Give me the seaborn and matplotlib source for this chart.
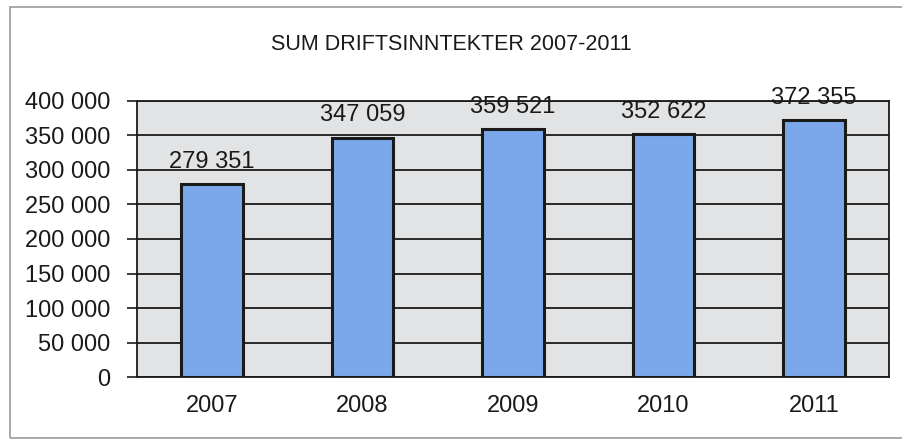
import matplotlib
matplotlib.use("Agg")
import matplotlib.pyplot as plt
import seaborn as sns
import pandas as pd
from matplotlib.ticker import FixedLocator, FuncFormatter
from matplotlib.patches import Rectangle

years = ["2007", "2008", "2009", "2010", "2011"]
values = [279351, 347059, 359521, 352622, 372355]
yticks = [0, 50000, 100000, 150000, 200000, 250000, 300000, 350000, 400000]
title = "SUM DRIFTSINNTEKTER 2007-2011"

sns.set_theme(style="white")
plt.rcParams['font.family'] = ['Liberation Sans', 'DejaVu Sans']

df = pd.DataFrame({"year": years, "value": values})

fig = plt.figure(figsize=(9.02, 4.41), dpi=100)
ax = fig.add_axes([0.1519, 0.1451, 0.8337, 0.6259])
ax.set_facecolor("#e2e3e5")

# outer chart frame
fig.patches.append(Rectangle((0.011, 0.007), 0.995, 0.977, transform=fig.transFigure,
                             fill=False, edgecolor="#9a9a9a", linewidth=1.2))

for t in yticks:
    ax.axhline(t, color="#1a1a1a", linewidth=1.3, zorder=1)

sns.barplot(data=df, x="year", y="value", color="#7aa8ea", edgecolor="#1a1a1a",
            linewidth=2.2, width=0.41, saturation=1, ax=ax, zorder=3)

for i, v in enumerate(values):
    ax.annotate(f"{v:,}".replace(",", " "), (i, v), xytext=(0, 8),
                textcoords="offset points", ha="center", va="bottom",
                fontsize=17, color="#1a1a1a", zorder=5)

ax.set_xlim(-0.5, 4.5)
ax.set_ylim(0, 400000)
ax.set_yticks(yticks)
ax.yaxis.set_major_formatter(FuncFormatter(lambda v, p: f"{int(v):,}".replace(",", " ")))
ax.xaxis.set_minor_locator(FixedLocator([-0.5, 0.5, 1.5, 2.5, 3.5, 4.5]))
ax.tick_params(axis="x", which="major", length=0, pad=13, labelsize=17, colors="#1a1a1a")
ax.tick_params(axis="x", which="minor", length=6, width=1.2, color="#1a1a1a", direction="out")
ax.tick_params(axis="y", length=7, width=1.2, color="#1a1a1a", direction="out",
               pad=12, labelsize=17, labelcolor="#1a1a1a", left=True)
ax.set_xlabel("")
ax.set_ylabel("")
for s in ax.spines.values():
    s.set_color("#1a1a1a")
    s.set_linewidth(1.3)
    s.set_visible(True)

fig.text(0.5, 0.898, title, ha="center", va="center", fontsize=15.5, color="#1a1a1a")

fig.savefig("out.png", dpi=100)
